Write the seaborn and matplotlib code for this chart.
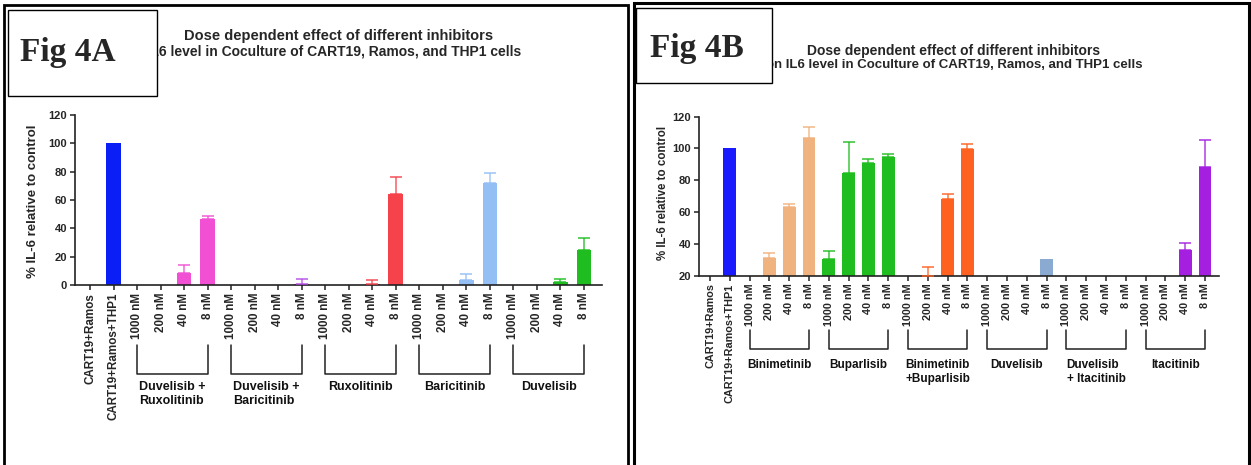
import numpy as np
import pandas as pd
import matplotlib
matplotlib.use("Agg")
import matplotlib.pyplot as plt
import matplotlib.transforms as mtransforms
from matplotlib.patches import Rectangle
import seaborn as sns

W, H = 1251, 465

DOSES = ["1000 nM", "200 nM", "40 nM", "8 nM"]
CONTROLS = ["CART19+Ramos", "CART19+Ramos+THP1"]

# Fig 4A
A_CTRL_MEAN = [0, 100]
A_CTRL_SD = [0, 0]
A_GROUPS = ["Duvelisib +\nRuxolitinib", "Duvelisib +\nBaricitinib",
            "Ruxolitinib", "Baricitinib", "Duvelisib"]
A_MEAN = [[0, 0, 8.5, 46.8],
          [0, 0, 0, 0.5],
          [0, 0, 0.5, 64.5],
          [0, 0, 3.3, 72.0],
          [0, 0, 2.0, 24.7]]
A_SD = [[0, 0, 5.5, 2.0],
        [0, 0, 0, 4.0],
        [0, 0, 3.0, 11.5],
        [0, 0, 4.8, 7.0],
        [0, 0, 2.3, 8.7]]
A_COLORS = ["#f250d4", "#b64ee6", "#f5424b", "#94bff4", "#1fbd1f"]
A_THP1_COLOR = "#0a1ff5"

# Fig 4B
B_CTRL_MEAN = [0, 100]
B_CTRL_SD = [0, 0]
B_GROUPS = ["Binimetinib", "Buparlisib", "Binimetinib\n+Buparlisib",
            "Duvelisib", "Duvelisib\n+ Itacitinib", "Itacitinib"]
B_MEAN = [[0, 31.3, 63.4, 106.4],
          [30.3, 84.4, 90.7, 94.5],
          [0, 20.0, 68.4, 99.5],
          [0, 0, 0, 30.3],
          [0, 0, 0, 0],
          [0, 0, 36.2, 88.6]]
B_SD = [[0, 3.0, 1.9, 6.9],
        [5.0, 19.9, 2.7, 1.8],
        [0, 5.3, 3.0, 3.1],
        [0, 0, 0, 0],
        [0, 0, 0, 0],
        [0, 0, 4.2, 16.7]]
B_COLORS = ["#f0b27e", "#1fbd1f", "#ff6120", "#8aaad2", "#999999", "#a41fe0"]
B_THP1_COLOR = "#1a1aff"


def build(ctrl_mean, ctrl_sd, thp1_color, groups, means, sds, colors):
    rows = []
    for name, m, s, c in zip(CONTROLS, ctrl_mean, ctrl_sd, ["#000000", thp1_color]):
        rows.append({"key": name, "label": name, "mean": m, "sd": s, "color": c, "group": None})
    for g, gm, gs, c in zip(groups, means, sds, colors):
        for d, m, s in zip(DOSES, gm, gs):
            rows.append({"key": g + "|" + d, "label": d, "mean": m, "sd": s, "color": c, "group": g})
    return pd.DataFrame(rows)


def fx(px):
    return px / W


def fy(py):
    return 1 - py / H


sns.set_theme(style="ticks")
plt.rcParams["font.family"] = ["Liberation Sans", "DejaVu Sans"]
plt.rcParams["font.weight"] = "bold"

fig = plt.figure(figsize=(W / 100, H / 100), dpi=100)

# panel frames
fig.patches.append(Rectangle((fx(4), fy(470)), fx(628) - fx(4), fy(5) - fy(470),
                             transform=fig.transFigure, fill=False, lw=2.0, ec="black", zorder=1))
fig.patches.append(Rectangle((fx(634), fy(470)), fx(1249) - fx(634), fy(3) - fy(470),
                             transform=fig.transFigure, fill=False, lw=2.2, ec="black", zorder=1))

panels = [
    dict(df=build(A_CTRL_MEAN, A_CTRL_SD, A_THP1_COLOR, A_GROUPS, A_MEAN, A_SD, A_COLORS),
         box=(75, 115, 602, 285), ylim=(0, 120), x0=90, step=23.52, width=0.62,
         tick_fs=8.4, group_fs=9, yl_x=-0.068, yl_y=0.49,
         br_top=345, br_bot=374, lab_y=381, ylab_fs=9.5),
    dict(df=build(B_CTRL_MEAN, B_CTRL_SD, B_THP1_COLOR, B_GROUPS, B_MEAN, B_SD, B_COLORS),
         box=(699, 116.7, 1219, 275.7), ylim=(20, 120), x0=710, step=19.8, width=0.64,
         tick_fs=7.8, group_fs=8.5, yl_x=-0.058, yl_y=0.52,
         br_top=330, br_bot=349, lab_y=359, ylab_fs=8.3),
]

for p in panels:
    df = p["df"]
    l, t, r, b = p["box"]
    ax = fig.add_axes([fx(l), fy(b), (r - l) / W, (b - t) / H])
    keys = list(df["key"])
    pal = dict(zip(df["key"], df["color"]))
    sns.barplot(data=df, x="key", y="mean", hue="key", order=keys, hue_order=keys,
                palette=pal, width=p["width"], saturation=1, errorbar=None,
                legend=False, linewidth=0, ax=ax)

    # upward-only SEM bars, GraphPad style
    xs = np.arange(len(df))
    for c in df["color"].unique():
        sel = (df["color"] == c) & (df["sd"] > 0)
        if not sel.any():
            continue
        ax.errorbar(xs[sel.values], df.loc[sel, "mean"],
                    yerr=[np.zeros(sel.sum()), df.loc[sel, "sd"]],
                    fmt="none", ecolor=c, elinewidth=1.1, capsize=4.5, capthick=1.2,
                    alpha=0.85, clip_on=False, zorder=3)

    lo = (l - p["x0"]) / p["step"]
    hi = (r - p["x0"]) / p["step"]
    ax.set_xlim(lo, hi)
    ax.set_ylim(*p["ylim"])
    ax.set_yticks(np.arange(p["ylim"][0], 121, 20))
    ax.set_xticks(xs)
    ax.set_xticklabels(df["label"], rotation=90, fontsize=p["tick_fs"], fontweight="bold")
    for lab in ax.get_yticklabels():
        lab.set_fontsize(8)
        lab.set_fontweight("bold")
    ax.tick_params(axis="both", direction="out", length=3.6, width=1.1, color="#222222", pad=2)
    sns.despine(ax=ax)
    for s in ["left", "bottom"]:
        ax.spines[s].set_linewidth(1.2)
        ax.spines[s].set_color("#222222")
    ax.set_xlabel("")
    ax.set_ylabel("% IL-6 relative to control", fontsize=p["ylab_fs"], fontweight="bold")
    ax.yaxis.set_label_coords(p["yl_x"], p["yl_y"])
    ax.set_facecolor("none")

    # group brackets under the dose labels
    trans = mtransforms.blended_transform_factory(ax.transData, ax.transAxes)
    y_top = (b - p["br_top"]) / (b - t)
    y_bot = (b - p["br_bot"]) / (b - t)
    y_lab = (b - p["lab_y"]) / (b - t)
    for g in df["group"].dropna().unique():
        idx = np.where(df["group"] == g)[0]
        i0, i1 = idx[0], idx[-1]
        ax.plot([i0, i0, i1, i1], [y_top, y_bot, y_bot, y_top], color="#222222",
                lw=1.1, transform=trans, clip_on=False)
        ax.text((i0 + i1) / 2, y_lab, g, transform=trans, ha="center", va="top",
                multialignment="left", fontsize=p["group_fs"], fontweight="bold",
                linespacing=1.25, color="#111111")

# titles (second line partly hidden under the figure-label boxes)
fig.text(fx(339), fy(36), "Dose dependent effect of different inhibitors",
         ha="center", va="center", fontsize=10.5, fontweight="bold", zorder=3)
fig.text(fx(521), fy(51), "on IL6 level in Coculture of CART19, Ramos, and THP1 cells",
         ha="right", va="center", fontsize=10, fontweight="bold", zorder=3)
fig.text(fx(954), fy(51), "Dose dependent effect of different inhibitors",
         ha="center", va="center", fontsize=10, fontweight="bold", zorder=3)
fig.text(fx(1142), fy(65), "on IL6 level in Coculture of CART19, Ramos, and THP1 cells",
         ha="right", va="center", fontsize=9.5, fontweight="bold", zorder=3)

# "Fig 4A" / "Fig 4B" boxes
for (x0, y0, x1, y1, label, tx, ty) in [(8, 10, 157, 96, "Fig 4A", 20, 52),
                                        (636, 8, 772, 83, "Fig 4B", 650, 48)]:
    fig.patches.append(Rectangle((fx(x0), fy(y1)), fx(x1) - fx(x0), fy(y0) - fy(y1),
                                 transform=fig.transFigure, fc="white", ec="black",
                                 lw=1.0, zorder=10))
    fig.text(fx(tx), fy(ty), label, ha="left", va="center", fontsize=24,
             fontweight="bold", family="Liberation Serif", zorder=11)

fig.savefig("out.png", dpi=100)
